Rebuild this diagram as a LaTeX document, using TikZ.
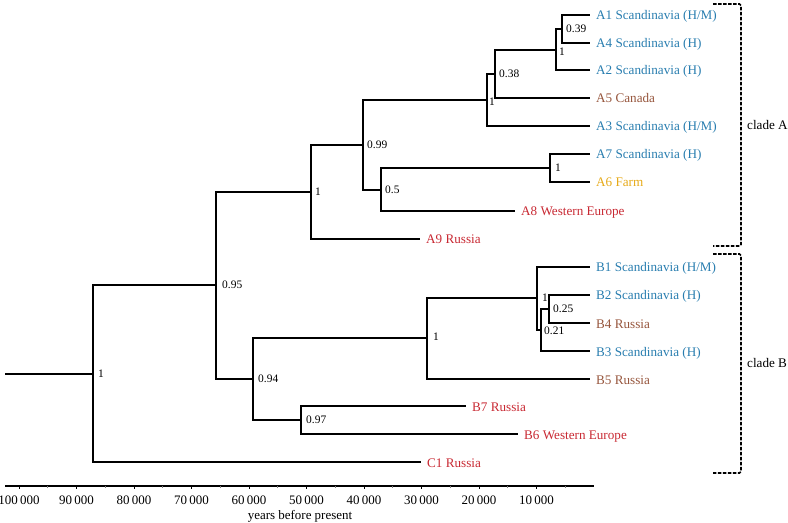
\documentclass[tikz,border=0pt]{standalone}
\usepackage{fontspec}
\setmainfont{Liberation Serif}
\usetikzlibrary{positioning}
\definecolor{scandblue}{RGB}{40,125,175}
\definecolor{localbrown}{RGB}{150,85,60}
\definecolor{farmgold}{RGB}{230,170,25}
\definecolor{westred}{RGB}{200,40,50}

\begin{document}
\begin{tikzpicture}[
  x=1bp, y=-1bp,
  branch/.style={line width=1.5bp, line join=miter},
  tip/.style={anchor=west, inner xsep=6bp, inner ysep=0pt, text height=10bp, text depth=0bp, font=\fontsize{13.2}{15}\selectfont},
  support/.style={inner sep=1bp, font=\fontsize{11.5}{13}\selectfont},
  ticklabel/.style={inner sep=0pt, font=\fontsize{13}{15}\selectfont},
  cladebrace/.style={line width=1.6bp, dash pattern=on 3.5bp off 1.5bp, rounded corners=1.5bp},
  cladelabel/.style={anchor=west, inner sep=2bp, font=\fontsize{13.2}{15}\selectfont},
]
\useasboundingbox (0,0) rectangle (788,523);

% tips
\node[tip, scandblue] (A1) at (590,15) {A1 Scandinavia (H/M)};
\node[tip, scandblue] (A4) at (590,43) {A4 Scandinavia (H)};
\node[tip, scandblue] (A2) at (590,70) {A2 Scandinavia (H)};
\node[tip, localbrown] (A5) at (590,98) {A5 Canada};
\node[tip, scandblue] (A3) at (590,126) {A3 Scandinavia (H/M)};
\node[tip, scandblue] (A7) at (590,154) {A7 Scandinavia (H)};
\node[tip, farmgold] (A6) at (590,182) {A6 Farm};
\node[tip, westred] (A8) at (515,211) {A8 Western Europe};
\node[tip, westred] (A9) at (420,239) {A9 Russia};
\node[tip, scandblue] (B1) at (590,267) {B1 Scandinavia (H/M)};
\node[tip, scandblue] (B2) at (590,295) {B2 Scandinavia (H)};
\node[tip, localbrown] (B4) at (590,323) {B4 Russia};
\node[tip, scandblue] (B3) at (590,351) {B3 Scandinavia (H)};
\node[tip, localbrown] (B5) at (590,379) {B5 Russia};
\node[tip, westred] (B7) at (466,406) {B7 Russia};
\node[tip, westred] (B6) at (518,434) {B6 Western Europe};
\node[tip, westred] (C1) at (421,462) {C1 Russia};

% internal nodes
\coordinate (n039) at (562,29);
\coordinate (n1a) at (556,50);
\coordinate (n038) at (495,74);
\coordinate (n1b) at (487,100);
\coordinate (n1c) at (550,168);
\coordinate (n05) at (381,190);
\coordinate (n099) at (363,145);
\coordinate (n1d) at (311,192);
\coordinate (n025) at (549,309);
\coordinate (n021) at (541,330);
\coordinate (n1e) at (537,298);
\coordinate (n1f) at (427,338);
\coordinate (n097) at (301,420);
\coordinate (n094) at (253,379);
\coordinate (n095) at (216,285);
\coordinate (root) at (93,374);
\coordinate (stem) at (5,374);

% support values
\node[support, right=3bp of n039] (s039) {0.39};
\node[support, right=2bp of n1a, yshift=-2bp] (s1a) {1};
\node[support, right=3bp of n038] (s038) {0.38};
\node[support, right=1bp of n1b, yshift=-2bp] (s1b) {1};
\node[support, right=4bp of n1c] (s1c) {1};
\node[support, right=3bp of n05] (s05) {0.5};
\node[support, right=3bp of n099] (s099) {0.99};
\node[support, right=3bp of n1d] (s1d) {1};
\node[support, right=4bp of n1e] (s1e) {1};
\node[support, right=3bp of n025] (s025) {0.25};
\node[support, right=2bp of n021, yshift=-1bp] (s021) {0.21};
\node[support, right=5bp of n1f, yshift=1.5bp] (s1f) {1};
\node[support, right=4bp of n097] (s097) {0.97};
\node[support, right=4bp of n094] (s094) {0.94};
\node[support, right=5bp of n095] (s095) {0.95};
\node[support, right=4bp of root] (sroot) {1};

% branches
\draw[branch] (stem) -- (root);
\foreach \p/\c in {root/n095, n095/n1d, n095/n094, n1d/n099, n099/n1b, n099/n05,
                   n1b/n038, n038/n1a, n1a/n039, n05/n1c, n094/n1f, n094/n097,
                   n1f/n1e, n1e/n021, n021/n025}{
  \draw[branch] (\p) |- (\c);
}
\foreach \p/\c in {n039/A1, n039/A4, n1a/A2, n038/A5, n1b/A3, n1c/A7, n1c/A6,
                   n05/A8, n1d/A9, n1e/B1, n025/B2, n025/B4, n021/B3, n1f/B5,
                   n097/B7, n097/B6, root/C1}{
  \draw[branch] (\p) |- (\c.west);
}

% time axis
\draw[line width=1.5bp] (5,486) -- (594,486);
\foreach \k/\lab in {1/10\,000, 2/20\,000, 3/30\,000, 4/40\,000, 5/50\,000,
                     6/60\,000, 7/70\,000, 8/80\,000, 9/90\,000, 10/100\,000}{
  \draw[line width=0.9bp] (594-57.5*\k,486) -- ++(0,3);
  \draw[line width=0.6bp, gray] (594-57.5*\k+28.75,486) -- ++(0,2);
  \node[ticklabel] at (594-57.5*\k,500) {\lab};
}
\node[ticklabel] (axistitle) at (300,516) {years before present};

% clades
\draw[cladebrace] (713,4) -- (741,4) -- (741,246) -- (713,246);
\draw[cladebrace] (713,254) -- (741,254) -- (741,473) -- (713,473);
\node[cladelabel] (cladeA) at (745,125) {clade A};
\node[cladelabel] (cladeB) at (745,363) {clade B};
\end{tikzpicture}
\end{document}
